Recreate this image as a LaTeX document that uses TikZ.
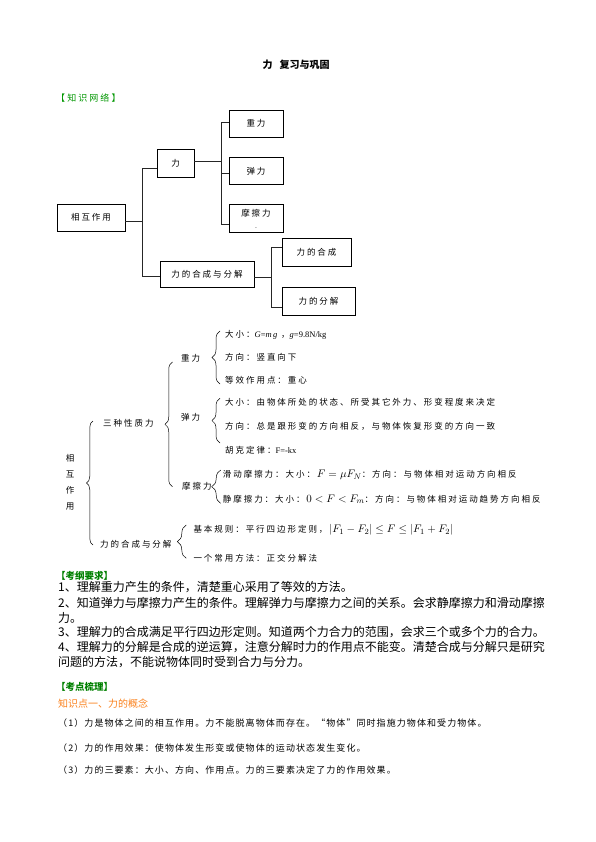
\documentclass[tikz,border=0pt]{standalone}
\usepackage{fontspec}
\setmainfont{Noto Sans CJK SC}
\newfontfamily\cjkw[LetterSpace=23]{Noto Sans CJK SC}
\newfontfamily\cjkv[LetterSpace=12]{Noto Sans CJK SC}
\newfontfamily\tnr{Liberation Serif}
\usepackage{amsmath, amssymb}
\usepackage{xcolor}
\usetikzlibrary{shapes,calc,decorations.pathreplacing}
\usetikzlibrary{positioning}
\definecolor{netgreen}{RGB}{0,150,0}
\definecolor{headgreen}{RGB}{0,128,0}
\definecolor{pointorange}{RGB}{250,130,30}
\newcommand{\formel}[1]{{\fontsize{11}{12}\selectfont\,$#1$}}
\tikzset{
	netbox/.style={rectangle, draw=black, line width=0.8pt, inner sep=0pt, font=\fontsize{8.5}{10}\cjkw},
	link/.style={draw=black!85, line width=0.7pt},
	brc/.style={draw=black, line width=0.5pt, decorate, decoration={brace, amplitude=#1}},
	brc/.default=7pt,
	item/.style={anchor=west, inner sep=0pt, font=\fontsize{8.5}{10}\cjkw},
	zeile/.style={anchor=west, inner sep=0pt, font=\fontsize{12}{14}\selectfont},
	punkt/.style={anchor=west, inner sep=0pt, font=\fontsize{9}{11}\cjkv},
}

\begin{document}
\begin{tikzpicture}[x=1pt,y=-1pt]
	\useasboundingbox (0,0) rectangle (595,842);
	\node[font=\fontsize{10}{12}\selectfont\bfseries] (titel) at (296,64.7) {力\hspace{7pt}复习与巩固};
	\node[anchor=west, inner sep=0pt, text=netgreen, font=\fontsize{9}{10}\cjkw] (netz) at (56,98) {【知识网络】};

	% Kasten-Netz
	\node[netbox, minimum width=68, minimum height=27] (xz) at (91,217.5) {相互作用};
	\node[netbox, minimum width=37, minimum height=28] (li) at (175.5,163) {力};
	\node[netbox, minimum width=94, minimum height=26] (hc) at (207,274) {力的合成与分解};
	\node[netbox, minimum width=54, minimum height=27] (zl) at (256,123.5) {重力};
	\node[netbox, minimum width=54, minimum height=27, below=20pt of zl] (tl) {弹力};
	\node[netbox, minimum width=54, minimum height=28, below=19pt of tl, align=center] (ml) {摩擦力\\[2pt]{\fontsize{7}{7}\selectfont .}};
	\node[netbox, minimum width=69, minimum height=28] (hcc) at (316.5,252) {力的合成};
	\node[netbox, minimum width=73, minimum height=28] (fj) at (318.5,301) {力的分解};

	\coordinate (k1) at (142,221);
	\draw[link] ($(xz.east)+(0,3.5)$) -- (k1);
	\draw[link] ($(li.west)+(0,5)$) -| (k1);
	\draw[link] ($(hc.west)+(0,2)$) -| (k1);
	\coordinate (k2) at (221,161);
	\draw[link] ($(li.east)+(0,-2)$) -- (k2);
	\draw[link] ($(zl.west)+(0,-1.5)$) -| (k2);
	\draw[link] ($(tl.west)+(0,2)$) -| (k2);
	\draw[link] ($(ml.west)+(0,6)$) -| (k2);
	\coordinate (k3) at (271,277.3);
	\draw[link] ($(hc.east)+(0,3.3)$) -- (k3);
	\draw[link] ($(hcc.west)+(0,-4.3)$) -| (k3);
	\draw[link] ($(fj.west)+(0,6.3)$) -| (k3);

	% Klammer-Uebersicht
	\node[inner sep=0pt, align=center, font=\fontsize{8.5}{16}\cjkw] (xh) at (70,482) {相\\互\\作\\用};
	\node[item] (szl) at (103,423) {三种性质力};
	\node[item] (hcf) at (100,544) {力的合成与分解};
	\node[item] (zl2) at (181,358) {重力};
	\node[item] (tl2) at (181,417) {弹力};
	\node[item] (ml2) at (182,486.7) {摩擦力};
	\node[item] (g1) at (225,335) {大小：{\tnr\textit{G}=\textit{m\,g}}~，{\tnr\textit{g}=9.8N/kg}};
	\node[item] (g2) at (225,357.3) {方向：竖直向下};
	\node[item] (g3) at (225,380) {等效作用点：重心};
	\node[item] (t1) at (225,402.7) {大小：由物体所处的状态、所受其它外力、形变程度来决定};
	\node[item] (t2) at (225,426) {方向：总是跟形变的方向相反，与物体恢复形变的方向一致};
	\node[item] (t3) at (225,450) {胡克定律：{\tnr F=-kx}};
	\node[item] (m1) at (222.7,475) {滑动摩擦力：大小：\formel{F=\mu F_N}：方向：与物体相对运动方向相反};
	\node[item] (m2) at (222.7,499.3) {静摩擦力：大小：\formel{0<F<F_m}：方向：与物体相对运动趋势方向相反};
	\node[item] (h1) at (193.3,530) {基本规则：平行四边形定则，\formel{\left|F_1-F_2\right|\le F\le\left|F_1+F_2\right|}};
	\node[item] (h2) at (193.3,558.3) {一个常用方法：正交分解法};

	\draw[brc=6.5pt] ($(hcf.west)+(-7,1)$) -- ($(szl.west)+(-10,-2)$);
	\draw[brc=7.5pt] ($(ml2.west)+(-9.5,0)$) -- ($(zl2.west)+(-8.5,4)$);
	\draw[brc=8pt] ($(g3.west)+(-5,4)$) -- ($(g1.west)+(-5,-4)$);
	\draw[brc=8pt] ($(t3.west)+(-5,-7)$) -- ($(t1.west)+(-5,-4.5)$);
	\draw[brc=9pt] ($(m2.west)+(-2,4)$) -- ($(m1.west)+(-2,-5)$);
	\draw[brc=9pt] ($(h2.west)+(-7,0)$) -- ($(h1.west)+(-7,-5)$);

	% Text
	\node[anchor=west, inner sep=0pt, text=headgreen, font=\fontsize{9.5}{11}\selectfont\bfseries] (kg) at (56,575.7) {【考纲要求】};
	\node[zeile] (r1) at (58,587) {1、理解重力产生的条件，清楚重心采用了等效的方法。};
	\node[zeile] (r2) at (58,602.5) {2、知道弹力与摩擦力产生的条件。理解弹力与摩擦力之间的关系。会求静摩擦力和滑动摩擦};
	\node[zeile] (r3) at (58,617.7) {力。};
	\node[zeile] (r4) at (58,632.5) {3、理解力的合成满足平行四边形定则。知道两个力合力的范围，会求三个或多个力的合力。};
	\node[zeile] (r5) at (58,647.3) {4、理解力的分解是合成的逆运算，注意分解时力的作用点不能变。清楚合成与分解只是研究};
	\node[zeile] (r6) at (58,662.3) {问题的方法，不能说物体同时受到合力与分力。};
	\node[anchor=west, inner sep=0pt, text=headgreen, font=\fontsize{9.5}{11}\selectfont\bfseries] (kd) at (56,687.3) {【考点梳理】};
	\node[anchor=west, inner sep=0pt, text=pointorange, font=\fontsize{10}{12}\selectfont] (zs) at (58,704) {知识点一、力的概念};
	\node[punkt] (p1) at (58,722.7) {（1）力是物体之间的相互作用。力不能脱离物体而存在。“物体”同时指施力物体和受力物体。};
	\node[punkt] (p2) at (58,748.3) {（2）力的作用效果：使物体发生形变或使物体的运动状态发生变化。};
	\node[punkt] (p3) at (58,770) {（3）力的三要素：大小、方向、作用点。力的三要素决定了力的作用效果。};
\end{tikzpicture}
\end{document}
